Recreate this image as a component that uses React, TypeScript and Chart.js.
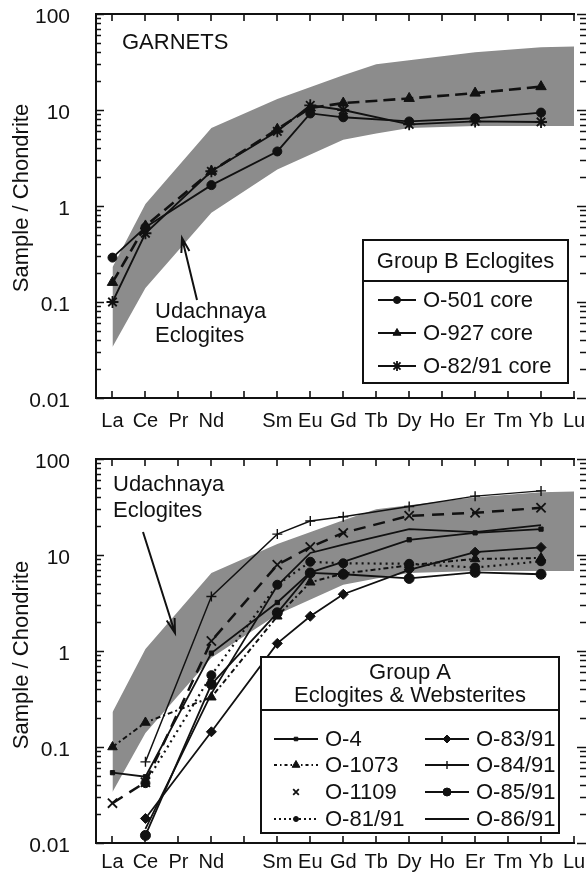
import React, { useEffect, useRef } from 'react';
import { Chart, registerables } from 'chart.js';
import { drawPoint } from 'chart.js/helpers';

Chart.register(...registerables);

const FONT = '"Liberation Sans", Arial, Helvetica, sans-serif';
const INK = '#111111';
const BAND_FILL = '#8c8c8c';

// Rare-earth elements along the x axis (index = position)
const ELEMENTS = ['La', 'Ce', 'Pr', 'Nd', 'Pm', 'Sm', 'Eu', 'Gd', 'Tb', 'Dy', 'Ho', 'Er', 'Tm', 'Yb', 'Lu'];
const TICK_LABELS = ['La', 'Ce', 'Pr', 'Nd', '', 'Sm', 'Eu', 'Gd', 'Tb', 'Dy', 'Ho', 'Er', 'Tm', 'Yb', 'Lu'];
const Y_TICKS = [0.01, 0.1, 1, 10, 100];
const Y_TICK_LABELS = ['0.01', '0.1', '1', '10', '100'];

// x range: half a step before La up to Lu
const X_MIN = -0.5;
const X_MAX = 14;

// Udachnaya eclogite field (shaded envelope)
const BAND_ELEMENTS = ['La', 'Ce', 'Nd', 'Sm', 'Gd', 'Tb', 'Dy', 'Er', 'Yb', 'Lu'];
const BAND_UPPER = [0.23, 1.05, 6.5, 13, 23, 30, 33, 40, 45, 46];
const BAND_LOWER = [0.034, 0.14, 0.85, 2.4, 4.9, 5.7, 6.5, 6.8, 6.8, 6.8];

// Group B eclogite garnets
const B_ELEMENTS = ['La', 'Ce', 'Nd', 'Sm', 'Eu', 'Gd', 'Dy', 'Er', 'Yb'];
const O_501 = [0.29, 0.6, 1.65, 3.7, 9.2, 8.4, 7.6, 8.2, 9.4];
const O_927 = [0.16, 0.62, 2.3, 6.3, 10.5, 11.8, 13.2, 15.0, 17.5];
const O_82_91 = [0.1, 0.52, 2.3, 6.0, 11.2, 10.0, 7.1, 7.6, 7.5];

// Group A eclogites & websterites
const A_ELEMENTS = ['La', 'Ce', 'Nd', 'Sm', 'Eu', 'Gd', 'Dy', 'Er', 'Yb'];
const O_4 = [0.054, 0.049, 0.95, 3.2, 6.6, 8.5, 14.4, 17, 18.6];
const O_1073 = [0.1, 0.18, 0.33, 2.3, 5.2, 6.4, 7.8, 9.1, 9.3];
const O_1109 = [0.026, 0.043, 1.27, 7.9, 12.1, 17, 25.6, 27.5, 31];
const O_81_91 = [null, 0.042, 0.56, 4.9, 8.5, 8.2, 8.1, 7.4, 8.6];
const O_83_91 = [null, 0.018, 0.144, 1.2, 2.3, 3.9, 7.0, 10.7, 12];
const O_84_91 = [null, 0.07, 3.7, 16.5, 22.6, 25, 32, 41, 46.5];
const O_85_91 = [null, 0.012, 0.45, 2.5, 6.5, 6.3, 5.7, 6.6, 6.3];
const O_86_91 = [null, 0.014, 0.36, 4.8, 10.5, 12.8, 18.6, 17.3, 20.5];

type Pt = { x: number; y: number };

const toPoints = (els: string[], vals: (number | null)[]): Pt[] =>
  els
    .map((e, i) => ({ x: ELEMENTS.indexOf(e), y: vals[i] as number }))
    .filter((p) => p.y !== null && p.y !== undefined);

type SeriesStyle = {
  dash: number[];
  width: number;
  pointStyle: string | null;
  radius: number;
  pointBorder: number;
  legendRadius: number;
  legendLine: 'solid' | 'dash' | 'none';
  legendDash?: number[];
};

function lineDataset(label: string, els: string[], vals: (number | null)[], s: SeriesStyle) {
  return {
    label,
    data: toPoints(els, vals),
    borderColor: INK,
    backgroundColor: INK,
    borderWidth: s.width,
    borderDash: s.dash,
    pointStyle: s.pointStyle || 'circle',
    pointRadius: s.pointStyle ? s.radius : 0,
    pointBorderWidth: s.pointBorder,
    pointBorderColor: INK,
    pointBackgroundColor: INK,
    fill: false,
    tension: 0,
    order: 0,
    clip: 12,
    legendRadius: s.legendRadius,
    legendLine: s.legendLine,
    legendDash: s.legendDash || [],
    legendMarker: !!s.pointStyle,
  };
}

function bandDatasets() {
  return [
    {
      label: 'band-lower',
      data: toPoints(BAND_ELEMENTS, BAND_LOWER),
      borderWidth: 0,
      pointRadius: 0,
      borderColor: 'rgba(0,0,0,0)',
      backgroundColor: BAND_FILL,
      fill: false,
      tension: 0,
      order: 10,
    },
    {
      label: 'band-upper',
      data: toPoints(BAND_ELEMENTS, BAND_UPPER),
      borderWidth: 0,
      pointRadius: 0,
      borderColor: 'rgba(0,0,0,0)',
      backgroundColor: BAND_FILL,
      fill: '-1',
      tension: 0,
      order: 10,
    },
  ];
}

// Axis frame, inward ticks, element labels, log minor ticks and the y-axis title
function framePlugin(labelDrop: number, titleShift: number) {
  return {
    id: 'frame',
    afterDraw(chart: any) {
      const { ctx, chartArea: a, scales } = chart;
      const xs = scales.x;
      const ys = scales.y;
      const xEnd = xs.getPixelForValue(ELEMENTS.length - 1) + 1;
      ctx.save();
      ctx.strokeStyle = INK;
      ctx.lineWidth = 2;
      ctx.beginPath();
      ctx.moveTo(xEnd, a.top);
      ctx.lineTo(a.left, a.top);
      ctx.lineTo(a.left, a.bottom);
      ctx.lineTo(xEnd, a.bottom);
      ctx.stroke();

      ctx.lineWidth = 1.6;
      ctx.beginPath();
      ELEMENTS.forEach((_, i) => {
        const x = Math.round(xs.getPixelForValue(i));
        ctx.moveTo(x, a.top);
        ctx.lineTo(x, a.top + 7);
        ctx.moveTo(x, a.bottom);
        ctx.lineTo(x, a.bottom - 7);
      });
      for (let e = -2; e <= 2; e++) {
        for (let m = 1; m <= 9; m++) {
          const v = m * Math.pow(10, e);
          if (v > 100.0001) break;
          const y = Math.round(ys.getPixelForValue(v)) + 0.5;
          const major = m === 1;
          ctx.moveTo(a.left, y);
          ctx.lineTo(a.left + (major ? 8 : 5), y);
          ctx.moveTo(chart.width, y);
          ctx.lineTo(chart.width - (major ? 9 : 6), y);
        }
      }
      ctx.stroke();

      ctx.fillStyle = INK;
      ctx.font = `20px ${FONT}`;
      ctx.textAlign = 'center';
      ctx.textBaseline = 'middle';
      TICK_LABELS.forEach((t, i) => {
        if (t) ctx.fillText(t, xs.getPixelForValue(i), a.bottom + labelDrop);
      });

      ctx.translate(22, (a.top + a.bottom) / 2 + titleShift);
      ctx.rotate(-Math.PI / 2);
      ctx.font = `22px ${FONT}`;
      ctx.fillText('Sample / Chondrite', 0, 0);
      ctx.restore();
    },
  };
}

type Note = { lines: string[]; x: number; y: number; gap: number };
type Arrow = { from: [number, number]; to: [number, number] };
type LegendRow = { label: string; x: number; y: number };
type LegendSpec = {
  box: [number, number, number, number];
  title: string[];
  titleY: number[];
  dividerY: number;
  rows: LegendRow[];
  lineHalf: number;
  textGap: number;
};

function drawArrow(ctx: CanvasRenderingContext2D, arrow: Arrow) {
  const [x1, y1] = arrow.from;
  const [x2, y2] = arrow.to;
  const ang = Math.atan2(y2 - y1, x2 - x1);
  const head = 15;
  const spread = 0.28;
  ctx.beginPath();
  ctx.moveTo(x1, y1);
  ctx.lineTo(x2, y2);
  ctx.moveTo(x2 - head * Math.cos(ang - spread), y2 - head * Math.sin(ang - spread));
  ctx.lineTo(x2, y2);
  ctx.lineTo(x2 - head * Math.cos(ang + spread), y2 - head * Math.sin(ang + spread));
  ctx.stroke();
}

function drawLegend(chart: any, spec: LegendSpec) {
  const ctx: CanvasRenderingContext2D = chart.ctx;
  const [x1, y1, x2, y2] = spec.box;
  ctx.fillStyle = '#ffffff';
  ctx.fillRect(x1, y1, x2 - x1, y2 - y1);
  ctx.strokeStyle = INK;
  ctx.lineWidth = 2;
  ctx.setLineDash([]);
  ctx.strokeRect(x1, y1, x2 - x1, y2 - y1);
  ctx.beginPath();
  ctx.moveTo(x1, spec.dividerY);
  ctx.lineTo(x2, spec.dividerY);
  ctx.stroke();

  ctx.fillStyle = INK;
  ctx.font = `22px ${FONT}`;
  ctx.textAlign = 'center';
  ctx.textBaseline = 'middle';
  spec.title.forEach((t, i) => ctx.fillText(t, (x1 + x2) / 2, spec.titleY[i]));

  ctx.textAlign = 'left';
  spec.rows.forEach((row) => {
    const ds = chart.data.datasets.find((d: any) => d.label === row.label);
    if (!ds) return;
    ctx.strokeStyle = INK;
    ctx.fillStyle = INK;
    if (ds.legendLine !== 'none') {
      ctx.save();
      ctx.lineWidth = 1.8;
      ctx.setLineDash(ds.legendLine === 'dash' ? ds.legendDash : []);
      ctx.beginPath();
      ctx.moveTo(row.x - spec.lineHalf, row.y);
      ctx.lineTo(row.x + spec.lineHalf, row.y);
      ctx.stroke();
      ctx.restore();
    }
    if (ds.legendMarker) {
      ctx.save();
      ctx.lineWidth = ds.pointBorderWidth;
      drawPoint(ctx, { pointStyle: ds.pointStyle, rotation: 0, radius: ds.legendRadius, borderWidth: ds.pointBorderWidth } as any, row.x, row.y);
      ctx.restore();
    }
    ctx.fillStyle = INK;
    ctx.fillText(ds.label, row.x + spec.lineHalf + spec.textGap, row.y + 1);
  });
}

function notesPlugin(notes: Note[], arrow: Arrow, legend: LegendSpec) {
  return {
    id: 'notes',
    afterDraw(chart: any) {
      const ctx: CanvasRenderingContext2D = chart.ctx;
      ctx.save();
      ctx.fillStyle = INK;
      ctx.strokeStyle = INK;
      ctx.font = `22px ${FONT}`;
      ctx.textAlign = 'left';
      ctx.textBaseline = 'middle';
      notes.forEach((n) => n.lines.forEach((l, i) => ctx.fillText(l, n.x, n.y + i * n.gap)));
      ctx.lineWidth = 2;
      drawArrow(ctx, arrow);
      drawLegend(chart, legend);
      ctx.restore();
    },
  };
}

function buildConfig(height: number, datasets: any[], plugin: any, labelDrop: number, titleShift: number) {
  return {
    type: 'line',
    data: { datasets },
    options: {
      responsive: false,
      animation: false,
      devicePixelRatio: 1,
      layout: { autoPadding: false, padding: { top: 14, right: 12, left: 0, bottom: 0 } },
      plugins: { legend: { display: false }, tooltip: { enabled: false }, title: { display: false } },
      scales: {
        x: {
          type: 'linear',
          min: X_MIN,
          max: X_MAX,
          grid: { display: false },
          border: { display: false },
          ticks: { display: false },
          afterFit: (s: any) => {
            s.height = height - 398;
            s.paddingLeft = 0;
            s.paddingRight = 0;
          },
        },
        y: {
          type: 'logarithmic',
          min: 0.01,
          max: 100,
          grid: { display: false },
          border: { display: false },
          afterBuildTicks: (s: any) => {
            s.ticks = Y_TICKS.map((v) => ({ value: v }));
          },
          afterFit: (s: any) => {
            s.width = 96;
            s.paddingTop = 0;
            s.paddingBottom = 0;
          },
          ticks: {
            padding: 18,
            labelOffset: 3,
            color: INK,
            font: { family: FONT, size: 21 },
            callback: (v: number) => {
              const i = Y_TICKS.findIndex((t) => Math.abs(t - v) / t < 1e-6);
              return i >= 0 ? Y_TICK_LABELS[i] : '';
            },
          },
        },
      },
    },
    plugins: [framePlugin(labelDrop, titleShift), plugin],
  };
}

function garnetConfig(height: number) {
  const datasets = [
    lineDataset('O-501 core', B_ELEMENTS, O_501, { dash: [], width: 1.8, pointStyle: 'circle', radius: 4.5, pointBorder: 1, legendRadius: 3.5, legendLine: 'solid' }),
    lineDataset('O-927 core', B_ELEMENTS, O_927, { dash: [12, 6], width: 2.6, pointStyle: 'triangle', radius: 6, pointBorder: 1, legendRadius: 4.5, legendLine: 'solid' }),
    lineDataset('O-82/91 core', B_ELEMENTS, O_82_91, { dash: [], width: 1.8, pointStyle: 'star', radius: 6, pointBorder: 1.8, legendRadius: 5, legendLine: 'solid' }),
    ...bandDatasets(),
  ];
  const plugin = notesPlugin(
    [
      { lines: ['GARNETS'], x: 122, y: 43, gap: 0 },
      { lines: ['Udachnaya', 'Eclogites'], x: 155, y: 312, gap: 24 },
    ],
    { from: [197, 300], to: [182, 238] },
    {
      box: [363, 240, 568, 383],
      title: ['Group B Eclogites'],
      titleY: [262],
      dividerY: 281,
      rows: [
        { label: 'O-501 core', x: 397, y: 300 },
        { label: 'O-927 core', x: 397, y: 333 },
        { label: 'O-82/91 core', x: 397, y: 366 },
      ],
      lineHalf: 19,
      textGap: 7,
    }
  );
  return buildConfig(height, datasets, plugin, 23, -8);
}

function groupAConfig(height: number) {
  const datasets = [
    lineDataset('O-4', A_ELEMENTS, O_4, { dash: [], width: 1.8, pointStyle: 'rect', radius: 3, pointBorder: 1, legendRadius: 2.5, legendLine: 'solid' }),
    lineDataset('O-1073', A_ELEMENTS, O_1073, { dash: [5, 3, 2, 3], width: 2, pointStyle: 'triangle', radius: 5.5, pointBorder: 1, legendRadius: 4.5, legendLine: 'dash', legendDash: [3, 3, 1.5, 3] }),
    lineDataset('O-1109', A_ELEMENTS, O_1109, { dash: [12, 8], width: 2.5, pointStyle: 'crossRot', radius: 6.5, pointBorder: 1.8, legendRadius: 4, legendLine: 'none' }),
    lineDataset('O-81/91', A_ELEMENTS, O_81_91, { dash: [2, 4], width: 2.2, pointStyle: 'circle', radius: 4.5, pointBorder: 1, legendRadius: 2.5, legendLine: 'dash', legendDash: [2, 3] }),
    lineDataset('O-83/91', A_ELEMENTS, O_83_91, { dash: [], width: 1.8, pointStyle: 'rectRot', radius: 5, pointBorder: 1, legendRadius: 4, legendLine: 'solid' }),
    lineDataset('O-84/91', A_ELEMENTS, O_84_91, { dash: [], width: 1.4, pointStyle: 'cross', radius: 5, pointBorder: 1.4, legendRadius: 4, legendLine: 'solid' }),
    lineDataset('O-85/91', A_ELEMENTS, O_85_91, { dash: [], width: 1.8, pointStyle: 'circle', radius: 5, pointBorder: 1, legendRadius: 4, legendLine: 'solid' }),
    lineDataset('O-86/91', A_ELEMENTS, O_86_91, { dash: [], width: 1.8, pointStyle: null, radius: 0, pointBorder: 1, legendRadius: 0, legendLine: 'solid' }),
    ...bandDatasets(),
  ];
  const plugin = notesPlugin(
    [{ lines: ['Udachnaya', 'Eclogites'], x: 113, y: 40, gap: 26 }],
    { from: [143, 87], to: [175, 188] },
    {
      box: [261, 212, 559, 388],
      title: ['Group A', 'Eclogites & Websterites'],
      titleY: [228, 251],
      dividerY: 265,
      rows: [
        { label: 'O-4', x: 296, y: 294 },
        { label: 'O-1073', x: 296, y: 320 },
        { label: 'O-1109', x: 296, y: 347 },
        { label: 'O-81/91', x: 296, y: 374 },
        { label: 'O-83/91', x: 447, y: 294 },
        { label: 'O-84/91', x: 447, y: 320 },
        { label: 'O-85/91', x: 447, y: 347 },
        { label: 'O-86/91', x: 447, y: 374 },
      ],
      lineHalf: 22,
      textGap: 7,
    }
  );
  return buildConfig(height, datasets, plugin, 19, 4);
}

function ReeChart({ height, build }: { height: number; build: (h: number) => any }) {
  const ref = useRef<HTMLCanvasElement>(null);
  useEffect(() => {
    const chart = new Chart(ref.current as HTMLCanvasElement, build(height));
    return () => chart.destroy();
  }, [height, build]);
  return <canvas ref={ref} width={586} height={height} style={{ display: 'block', width: 586, height }} />;
}

export default function App() {
  return (
    <div style={{ position: 'absolute', left: 0, top: 0, width: 586, height: 875, background: '#ffffff', overflow: 'hidden' }}>
      <ReeChart height={445} build={garnetConfig} />
      <ReeChart height={430} build={groupAConfig} />
    </div>
  );
}
